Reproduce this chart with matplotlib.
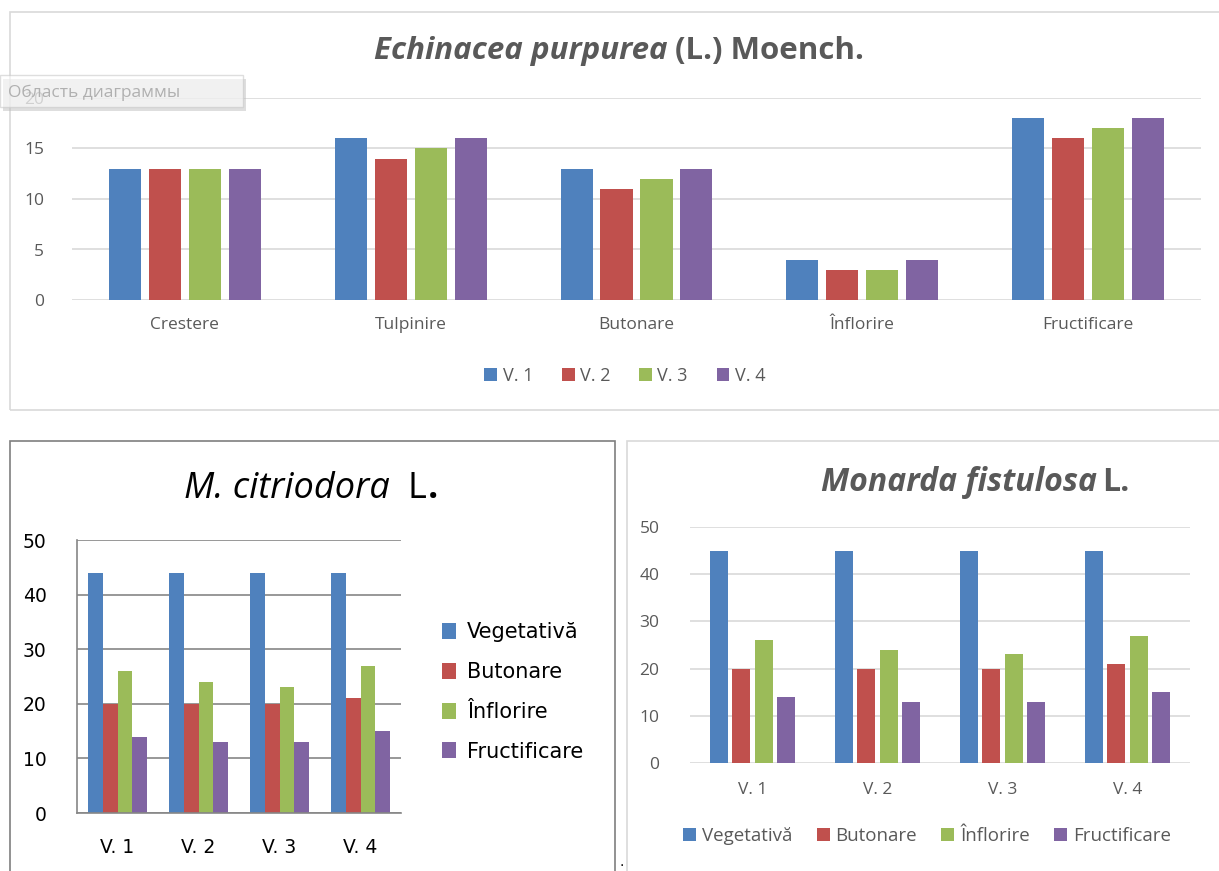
import numpy as np
import matplotlib.pyplot as plt
from matplotlib.patches import Rectangle

# chart data
stages = ['Crestere', 'Tulpinire', 'Butonare', 'Înflorire', 'Fructificare']
variants = ['V. 1', 'V. 2', 'V. 3', 'V. 4']
echinacea_v1 = [13, 16, 13, 4, 18]
echinacea_v2 = [13, 14, 11, 3, 16]
echinacea_v3 = [13, 15, 12, 3, 17]
echinacea_v4 = [13, 16, 13, 4, 18]

phases = ['Vegetativă', 'Butonare', 'Înflorire', 'Fructificare']
citriodora_veg = [44, 44, 44, 44]
citriodora_but = [20, 20, 20, 21]
citriodora_inf = [26, 24, 23, 27]
citriodora_fru = [14, 13, 13, 15]

fistulosa_veg = [45, 45, 45, 45]
fistulosa_but = [20, 20, 20, 21]
fistulosa_inf = [26, 24, 23, 27]
fistulosa_fru = [14, 13, 13, 15]

colors = ['#4F81BD', '#C0504D', '#9BBB59', '#8064A2']
gray_txt = '#595959'
grid_light = '#d9d9d9'

W, H = 1219, 871
fig = plt.figure(figsize=(W / 100, H / 100), dpi=100)
fig.patch.set_facecolor('white')


def box(x0, y0, x1, y1):
    return [x0 / W, 1 - y1 / H, (x1 - x0) / W, (y1 - y0) / H]


def frame(x0, y0, x1, y1, color):
    fig.add_artist(Rectangle((x0 / W, 1 - y1 / H), (x1 - x0) / W, (y1 - y0) / H,
                             transform=fig.transFigure, fill=False,
                             edgecolor=color, lw=1.2))


def rich_title(pieces, xc, y, color, size, family):
    # title made of several pieces with their own style, centred on xc
    r = fig.canvas.get_renderer()
    arts = []
    total = 0
    for s, style, weight, gap in pieces:
        t = fig.text(0, 1 - y / H, s, va='baseline', ha='left', color=color,
                     fontsize=size, style=style, weight=weight, family=family)
        w = t.get_window_extent(r).width
        arts.append((t, w, gap))
        total += w + gap
    x = xc - total / 2
    for t, w, gap in arts:
        x += gap
        t.set_x(x / W)
        x += w


def grouped(ax, series, width, step):
    n = len(series)
    x = np.arange(len(series[0]))
    bars = []
    for i, vals in enumerate(series):
        b = ax.bar(x + (i - (n - 1) / 2) * step, vals, width=width,
                   color=colors[i], zorder=2)
        bars.append(b)
    return bars


sans = ['Open Sans', 'DejaVu Sans']

# frames
frame(10, 12, 1230, 410, grid_light)
frame(10, 441, 615, 880, '#7f7f7f')
frame(627, 441, 1230, 880, grid_light)

# ---- top chart: Echinacea purpurea ----
ax1 = fig.add_axes(box(72, 98, 1201, 300))
b1 = grouped(ax1, [echinacea_v1, echinacea_v2, echinacea_v3, echinacea_v4], 0.142, 0.177)
ax1.set_xlim(-0.5, len(stages) - 0.5)
ax1.set_ylim(0, 20)
ax1.set_yticks([0, 5, 10, 15, 20])
ax1.set_xticks(range(len(stages)))
ax1.set_xticklabels(stages)
ax1.grid(axis='y', color=grid_light, lw=1.2)
ax1.set_axisbelow(True)
for s in ax1.spines.values():
    s.set_visible(False)
ax1.tick_params(length=0, labelsize=12.5, colors=gray_txt, pad=12)
ax1.tick_params(axis='y', pad=20)
for lab in ax1.get_xticklabels() + ax1.get_yticklabels():
    lab.set_family(sans)
fig.legend(b1, variants, loc='center', bbox_to_anchor=(625 / W, 1 - 376 / H),
           ncol=4, frameon=False, handlelength=0.7, handleheight=0.7,
           handletextpad=0.3, columnspacing=1.6,
           prop={'family': sans, 'size': 13}, labelcolor=gray_txt)
rich_title([('Echinacea purpurea', 'italic', 'bold', 0),
            ('(L.) Moench.', 'normal', 'bold', 7)],
           619, 59, gray_txt, 22.5, sans)

# tooltip overlay
fig.add_artist(Rectangle((3 / W, 1 - 111 / H), 243 / W, 32 / H, transform=fig.transFigure,
                         facecolor='#bfbfbf', edgecolor='none', alpha=0.5, zorder=5))
fig.add_artist(Rectangle((0, 1 - 107 / H), 243 / W, 32 / H, transform=fig.transFigure,
                         facecolor='white', edgecolor='#c8c8c8', alpha=0.6, lw=1, zorder=6))
fig.text(8 / W, 1 - 93 / H, 'Область диаграммы', fontsize=12.5, color='#b0b0b0',
         va='center', family=sans, zorder=7)

# ---- bottom left: M. citriodora ----
ax2 = fig.add_axes(box(77, 540, 401, 813))
b2 = grouped(ax2, [citriodora_veg, citriodora_but, citriodora_inf, citriodora_fru], 0.185, 0.185)
ax2.set_xlim(-0.5, len(variants) - 0.5)
ax2.set_ylim(0, 50)
ax2.set_yticks(range(0, 51, 10))
ax2.set_xticks(range(len(variants)))
ax2.set_xticklabels(variants)
ax2.grid(axis='y', color='#868686', lw=1.2)
ax2.set_axisbelow(True)
for k in ['top', 'right']:
    ax2.spines[k].set_visible(False)
for k in ['left', 'bottom']:
    ax2.spines[k].set_color('#868686')
    ax2.spines[k].set_linewidth(1.2)
ax2.tick_params(length=0, labelsize=13.5, colors='black')
ax2.tick_params(axis='x', pad=18)
ax2.tick_params(axis='y', pad=22)
fig.legend(b2, phases, loc='center left', bbox_to_anchor=(423 / W, 1 - 692 / H),
           ncol=1, frameon=False, handlelength=0.7, handleheight=0.8,
           handletextpad=0.5, labelspacing=0.95, prop={'size': 15})
rich_title([('M. citriodora', 'italic', 'normal', 0),
            ('L', 'normal', 'normal', 18),
            ('.', 'normal', 'bold', 1)],
           311, 498, 'black', 26, sans)
fig.text(622 / W, 1 - 862 / H, '.', fontsize=10, color='black', ha='center', va='center')

# ---- bottom right: Monarda fistulosa ----
ax3 = fig.add_axes(box(690, 527, 1190, 763))
b3 = grouped(ax3, [fistulosa_veg, fistulosa_but, fistulosa_inf, fistulosa_fru], 0.144, 0.18)
ax3.set_xlim(-0.5, len(variants) - 0.5)
ax3.set_ylim(0, 50)
ax3.set_yticks(range(0, 51, 10))
ax3.set_xticks(range(len(variants)))
ax3.set_xticklabels(variants)
ax3.grid(axis='y', color=grid_light, lw=1.2)
ax3.set_axisbelow(True)
for s in ax3.spines.values():
    s.set_visible(False)
ax3.tick_params(length=0, labelsize=12.5, colors=gray_txt)
ax3.tick_params(axis='x', pad=14)
ax3.tick_params(axis='y', pad=22)
for lab in ax3.get_xticklabels() + ax3.get_yticklabels():
    lab.set_family(sans)
fig.legend(b3, phases, loc='center', bbox_to_anchor=(927 / W, 1 - 836 / H),
           ncol=4, frameon=False, handlelength=0.7, handleheight=0.7,
           handletextpad=0.3, columnspacing=1.3,
           prop={'family': sans, 'size': 13.5}, labelcolor=gray_txt)
rich_title([('Monarda fistulosa', 'italic', 'bold', 0),
            ('L.', 'normal', 'bold', 5)],
           975, 491, gray_txt, 23, sans)

fig.savefig('out.png', dpi=100, facecolor='white')
